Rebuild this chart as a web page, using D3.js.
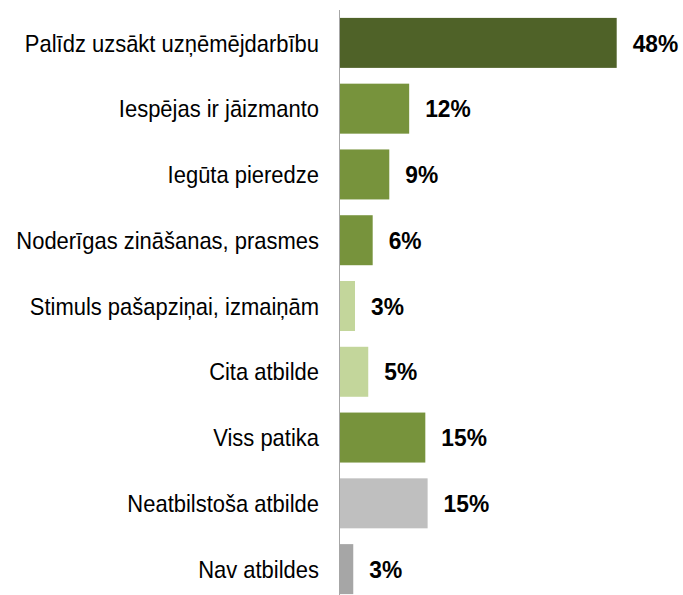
<!DOCTYPE html>
<html>
<head>
<meta charset="utf-8">
<script src="https://cdn.jsdelivr.net/npm/d3@7"></script>
<style>
  html, body { margin: 0; padding: 0; background: #ffffff; }
  svg { display: block; }
</style>
</head>
<body>
<div id="chart"></div>
<script>
// answers, top to bottom
const categories = [
  'Palīdz uzsākt uzņēmējdarbību',
  'Iespējas ir jāizmanto',
  'Iegūta pieredze',
  'Noderīgas zināšanas, prasmes',
  'Stimuls pašapziņai, izmaiņām',
  'Cita atbilde',
  'Viss patika',
  'Neatbilstoša atbilde',
  'Nav atbildes'
];
// bar lengths (percent)
const values = [48, 12.0, 8.55, 5.67, 2.6, 4.9, 14.8, 15.2, 2.3];
// printed labels
const valueLabels = ['48%', '12%', '9%', '6%', '3%', '5%', '15%', '15%', '3%'];
const barColors = ['#4f6228', '#77933c', '#77933c', '#77933c', '#c3d69b', '#c3d69b', '#77933c', '#bfbfbf', '#a6a6a6'];

const width = 683;
const height = 595;
const axisX = 340;

const svg = d3.select('#chart').append('svg')
  .attr('width', width)
  .attr('height', height);

const y = d3.scaleBand()
  .domain(categories)
  .range([10, 602])
  .paddingInner(0.24)
  .paddingOuter(0.12);

const x = d3.scaleLinear()
  .domain([0, 48])
  .range([axisX, 616.7]);

const rows = categories.map((c, i) => ({ name: c, value: values[i], label: valueLabels[i], color: barColors[i] }));

svg.selectAll('.bar')
  .data(rows)
  .enter().append('rect')
    .attr('class', 'bar')
    .attr('x', x(0))
    .attr('y', d => y(d.name))
    .attr('width', d => x(d.value) - x(0))
    .attr('height', y.bandwidth())
    .attr('fill', d => d.color);

// vertical category axis line
svg.append('line')
  .attr('x1', axisX - 0.5)
  .attr('x2', axisX - 0.5)
  .attr('y1', 10)
  .attr('y2', height)
  .attr('stroke', '#a6a6a6')
  .attr('stroke-width', 1);

// text in the picture is a bit narrow and tall, so squeeze it sideways
svg.selectAll('.cat-label')
  .data(rows)
  .enter().append('text')
    .attr('class', 'cat-label')
    .attr('transform', d => `translate(319,${y(d.name) + y.bandwidth() / 2}) scale(0.915,1)`)
    .attr('dy', '0.36em')
    .attr('text-anchor', 'end')
    .attr('font-family', 'Liberation Sans, Arial, sans-serif')
    .attr('font-size', 24)
    .attr('fill', '#000')
    .text(d => d.name);

svg.selectAll('.val-label')
  .data(rows)
  .enter().append('text')
    .attr('class', 'val-label')
    .attr('transform', d => `translate(${x(d.value) + 16},${y(d.name) + y.bandwidth() / 2}) scale(0.95,1)`)
    .attr('dy', '0.36em')
    .attr('font-family', 'Liberation Sans, Arial, sans-serif')
    .attr('font-size', 24)
    .attr('font-weight', 'bold')
    .attr('fill', '#000')
    .text(d => d.label);
</script>
</body>
</html>
